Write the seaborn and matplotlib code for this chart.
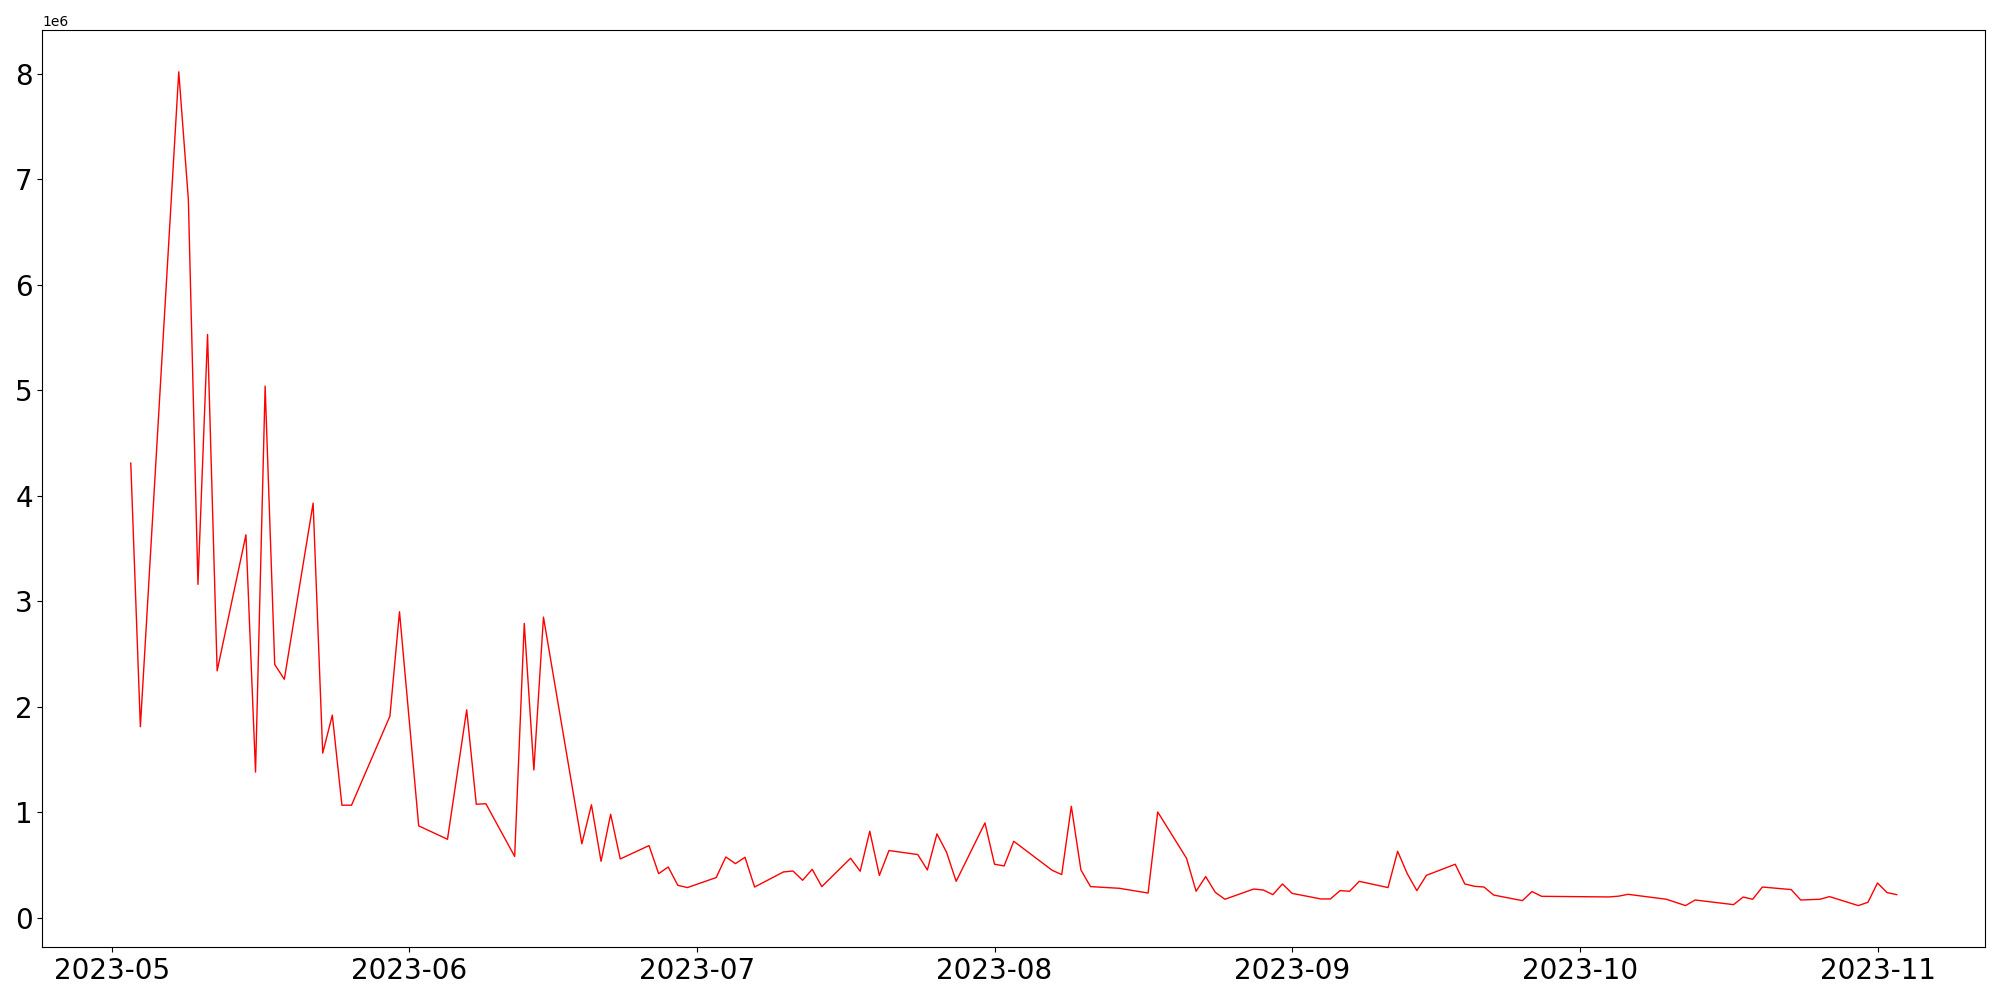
import pandas as pd
import matplotlib
matplotlib.use("Agg")
import matplotlib.pyplot as plt
import seaborn as sns

# daily values
dates = [
    "2023-05-03", "2023-05-04", "2023-05-08", "2023-05-09", "2023-05-10", "2023-05-11",
    "2023-05-12", "2023-05-15", "2023-05-16", "2023-05-17", "2023-05-18", "2023-05-19",
    "2023-05-22", "2023-05-23", "2023-05-24", "2023-05-25", "2023-05-26", "2023-05-30",
    "2023-05-31", "2023-06-02", "2023-06-05", "2023-06-07", "2023-06-08", "2023-06-09",
    "2023-06-12", "2023-06-13", "2023-06-14", "2023-06-15", "2023-06-19", "2023-06-20",
    "2023-06-21", "2023-06-22", "2023-06-23", "2023-06-26", "2023-06-27", "2023-06-28",
    "2023-06-29", "2023-06-30", "2023-07-03", "2023-07-04", "2023-07-05", "2023-07-06",
    "2023-07-07", "2023-07-10", "2023-07-11", "2023-07-12", "2023-07-13", "2023-07-14",
    "2023-07-17", "2023-07-18", "2023-07-19", "2023-07-20", "2023-07-21", "2023-07-24",
    "2023-07-25", "2023-07-26", "2023-07-27", "2023-07-28", "2023-07-31", "2023-08-01",
    "2023-08-02", "2023-08-03", "2023-08-07", "2023-08-08", "2023-08-09", "2023-08-10",
    "2023-08-11", "2023-08-14", "2023-08-17", "2023-08-18", "2023-08-21", "2023-08-22",
    "2023-08-23", "2023-08-24", "2023-08-25", "2023-08-28", "2023-08-29", "2023-08-30",
    "2023-08-31", "2023-09-01", "2023-09-04", "2023-09-05", "2023-09-06", "2023-09-07",
    "2023-09-08", "2023-09-11", "2023-09-12", "2023-09-13", "2023-09-14", "2023-09-15",
    "2023-09-18", "2023-09-19", "2023-09-20", "2023-09-21", "2023-09-22", "2023-09-25",
    "2023-09-26", "2023-09-27", "2023-10-04", "2023-10-05", "2023-10-06", "2023-10-10",
    "2023-10-12", "2023-10-13", "2023-10-17", "2023-10-18", "2023-10-19", "2023-10-20",
    "2023-10-23", "2023-10-24", "2023-10-26", "2023-10-27", "2023-10-30", "2023-10-31",
    "2023-11-01", "2023-11-02", "2023-11-03",
]

values_mio = [
    4.31, 1.81, 8.02, 6.81, 3.16, 5.53,
    2.34, 3.63, 1.38, 5.04, 2.40, 2.26,
    3.93, 1.56, 1.92, 1.066, 1.066, 1.91,
    2.90, 0.87, 0.743, 1.97, 1.075, 1.08,
    0.58, 2.79, 1.40, 2.85, 0.70, 1.07,
    0.534, 0.98, 0.556, 0.683, 0.417, 0.48,
    0.306, 0.285, 0.38, 0.575, 0.512, 0.572,
    0.29, 0.433, 0.442, 0.354, 0.458, 0.294,
    0.563, 0.44, 0.819, 0.40, 0.636, 0.598,
    0.452, 0.794, 0.62, 0.344, 0.898, 0.506,
    0.49, 0.724, 0.449, 0.408, 1.056, 0.452,
    0.294, 0.278, 0.233, 1.002, 0.563, 0.25,
    0.389, 0.24, 0.174, 0.271, 0.262, 0.218,
    0.319, 0.23, 0.177, 0.177, 0.256, 0.25,
    0.344, 0.285, 0.629, 0.417, 0.256, 0.401,
    0.506, 0.319, 0.297, 0.29, 0.214, 0.161,
    0.247, 0.202, 0.196, 0.203, 0.221, 0.174,
    0.114, 0.167, 0.123, 0.195, 0.174, 0.29,
    0.266, 0.167, 0.174, 0.199, 0.114, 0.145,
    0.328, 0.237, 0.218,
]

df = pd.DataFrame({"date": pd.to_datetime(dates), "value": [v * 1e6 for v in values_mio]})

plt.figure(figsize=(20, 10), dpi=100)
ax = sns.lineplot(data=df, x="date", y="value", color="red", linewidth=1)

ax.set_xlabel("")
ax.set_ylabel("")
plt.xticks(fontsize=20)
plt.yticks(fontsize=20)

plt.tight_layout()
plt.savefig("out.png", dpi=100)
